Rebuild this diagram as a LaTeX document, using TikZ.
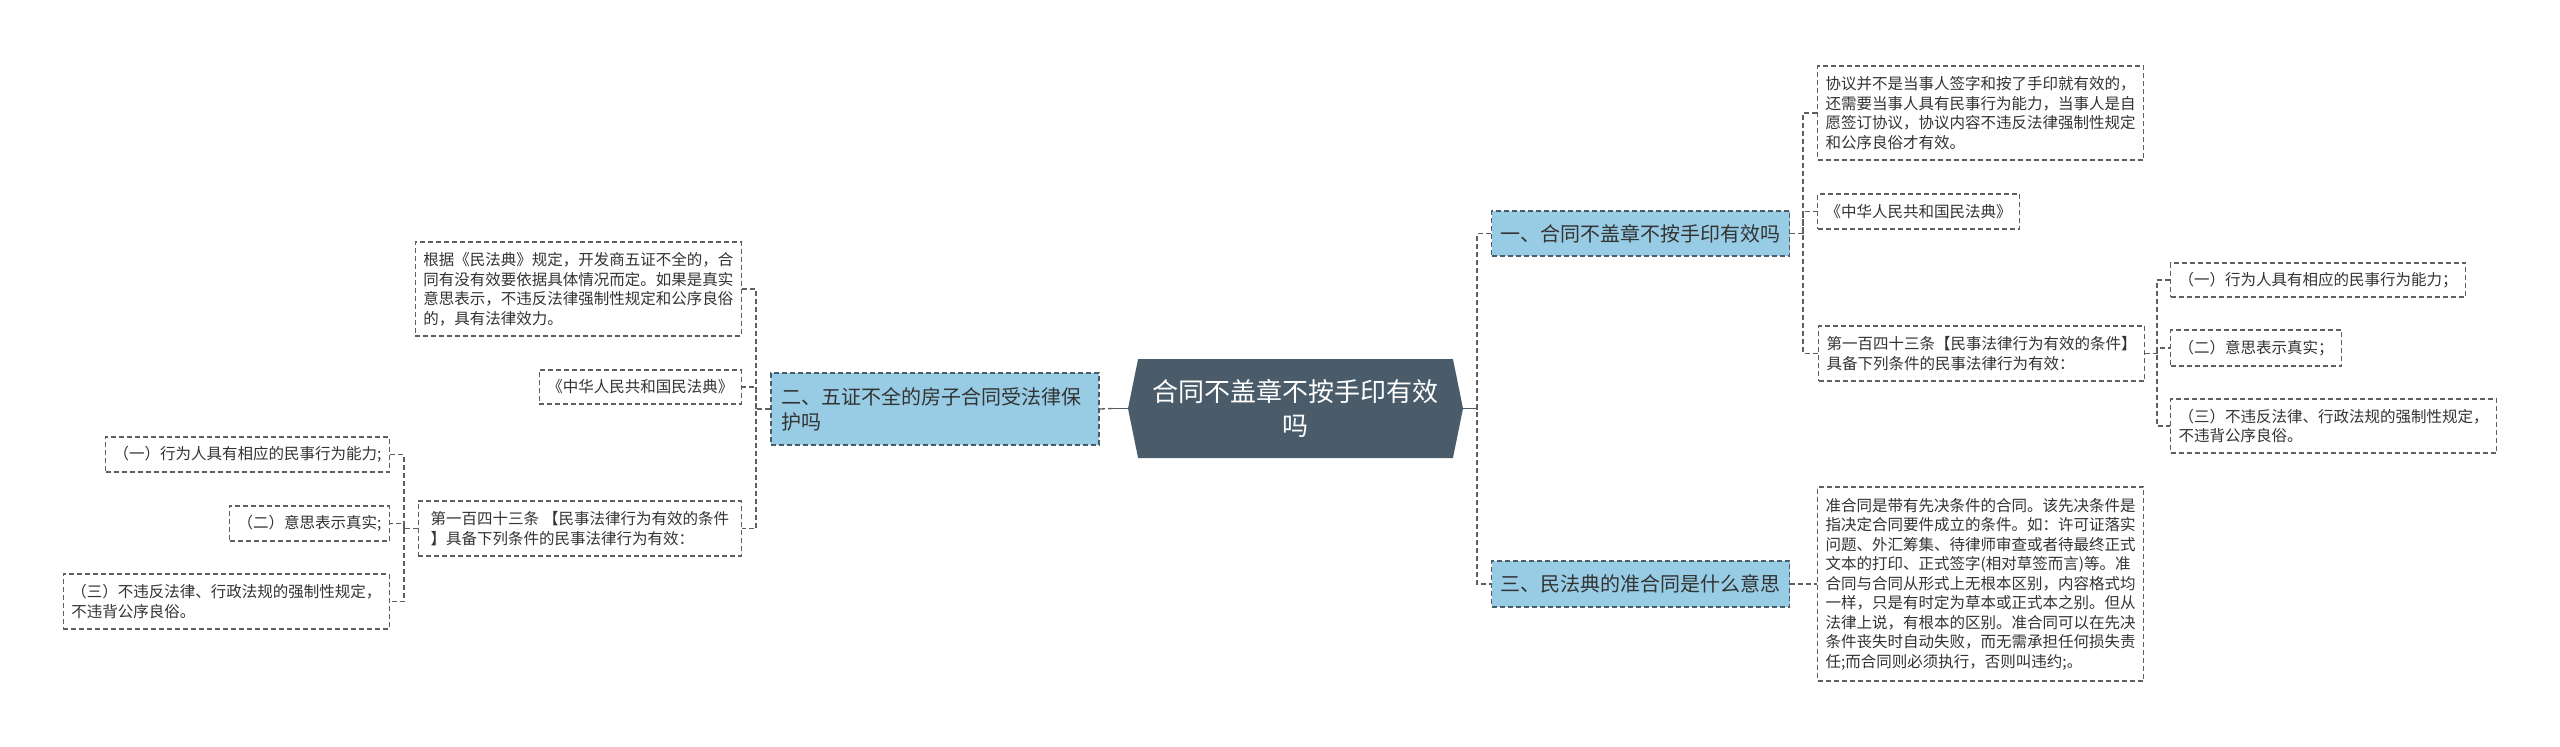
\documentclass[tikz,border=0pt]{standalone}
\usepackage{fontspec}
\newfontfamily\cjk{Noto Sans CJK SC}
\usetikzlibrary{shapes.symbols}
\definecolor{hubfill}{RGB}{74,91,106}
\definecolor{topicfill}{RGB}{152,204,229}
\definecolor{linkgray}{RGB}{95,95,95}
\definecolor{textgray}{RGB}{51,51,51}

\begin{document}
\begin{tikzpicture}[x=1pt, y=-1pt,
    hub/.style={signal, signal to=east and west, signal pointer angle=157, fill=hubfill, text=white,
      minimum width=335pt, minimum height=99pt, inner sep=0pt, align=center, font={\cjk\fontsize{26}{34}\selectfont}},
    topic/.style={draw=hubfill, dash pattern=on 5pt off 3pt, line width=1.3pt, fill=topicfill, text=textgray,
      inner xsep=9pt, inner ysep=0pt, align=left, font={\cjk\fontsize{20}{25}\selectfont}},
    leaf/.style={draw=linkgray, dash pattern=on 5pt off 3pt, line width=1.3pt, text=textgray,
      inner xsep=8pt, inner ysep=0pt, align=left, font={\cjk\fontsize{15.5}{19.5}\selectfont}},
    link/.style={draw=linkgray, dash pattern=on 5pt off 3pt, line width=1.3pt}]
    % Page frame
    \fill[white] (0,0) rectangle (2560,747);
    \useasboundingbox (0,0) rectangle (2560,747);

    % Central topic
    \node[hub] (hub) at (1295.5,408.5) {合同不盖章不按手印有效\\吗};

    % Main branches
    \node[topic, minimum width=297pt, minimum height=45pt] (b1) at (1640.5,233.5) {一、合同不盖章不按手印有效吗};
    \node[topic, minimum width=297pt, minimum height=46pt] (b3) at (1640.5,584) {三、民法典的准合同是什么意思};
    \node[topic, text width=308pt, inner xsep=10pt, minimum height=72pt] (b2) at (935,409) {二、五证不全的房子合同受法律保\\护吗};

    % Right leaves
    \node[leaf, anchor=west, minimum height=94pt] (c1a) at (1817,113) {协议并不是当事人签字和按了手印就有效的，\\还需要当事人具有民事行为能力，当事人是自\\愿签订协议，协议内容不违反法律强制性规定\\和公序良俗才有效。};
    \node[leaf, anchor=west, minimum height=35pt] (c1b) at (1817,211.5) {《中华人民共和国民法典》};
    \node[leaf, anchor=west, minimum height=55pt] (c1c) at (1818,353.5) {第一百四十三条【民事法律行为有效的条件】\\具备下列条件的民事法律行为有效：};
    \node[leaf, anchor=west, minimum height=34pt] (r1) at (2170,280) {（一）行为人具有相应的民事行为能力；};
    \node[leaf, anchor=west, minimum height=36pt] (r2) at (2170,348) {（二）意思表示真实；};
    \node[leaf, anchor=west, minimum height=54pt] (r3) at (2170,426) {（三）不违反法律、行政法规的强制性规定，\\不违背公序良俗。};
    \node[leaf, anchor=west, minimum height=194pt] (c3a) at (1817,584) {准合同是带有先决条件的合同。该先决条件是\\指决定合同要件成立的条件。如：许可证落实\\问题、外汇筹集、待律师审查或者待最终正式\\文本的打印、正式签字(相对草签而言)等。准\\合同与合同从形式上无根本区别，内容格式均\\一样，只是有时定为草本或正式本之别。但从\\法律上说，有根本的区别。准合同可以在先决\\条件丧失时自动失败，而无需承担任何损失责\\任;而合同则必须执行，否则叫违约;。};

    % Left leaves
    \node[leaf, anchor=east, minimum height=94pt] (l1) at (742,289) {根据《民法典》规定，开发商五证不全的，合\\同有没有效要依据具体情况而定。如果是真实\\意思表示，不违反法律强制性规定和公序良俗\\的，具有法律效力。};
    \node[leaf, anchor=east, minimum height=34pt] (l2) at (742,387) {《中华人民共和国民法典》};
    \node[leaf, anchor=east, minimum width=323pt, minimum height=55pt] (l3) at (742,528.5) {第一百四十三条\hspace{4pt}【民事法律行为有效的条件\\】具备下列条件的民事法律行为有效：};
    \node[leaf, anchor=east, minimum height=35pt] (ll1) at (390,454.5) {（一）行为人具有相应的民事行为能力;};
    \node[leaf, anchor=east, minimum height=35pt] (ll2) at (390,523.5) {（二）意思表示真实;};
    \node[leaf, anchor=east, minimum height=55pt] (ll3) at (390,601.5) {（三）不违反法律、行政法规的强制性规定，\\不违背公序良俗。};

    % Junctions
    \coordinate (tr) at (1477,408.5);
    \coordinate (tl) at (1113,408.5);
    \coordinate (j1) at (1803,233.5);
    \coordinate (j2) at (2157,353.5);
    \coordinate (j3) at (756,409);
    \coordinate (j4) at (404,528.5);

    % Connectors
    \draw[hubfill, line width=1.5pt] (hub.east) -- (tr);
    \draw[hubfill, line width=1.5pt] (hub.west) -- (tl);
    \draw[link] (b1.west) -| (tr) |- (b3.west);
    \draw[link] (tl) -- (b2.east);
    \draw[link] (b1.east) -- (j1);
    \draw[link] (c1a.west) -| (j1) |- (c1c.west);
    \draw[link] (j1) |- (c1b.west);
    \draw[link] (c1c.east) -- (j2);
    \draw[link] (r1.west) -| (j2) |- (r3.west);
    \draw[link] (j2) |- (r2.west);
    \draw[link] (b3.east) -- (c3a.west);
    \draw[link] (b2.west) -- (j3);
    \draw[link] (l1.east) -| (j3) |- (l3.east);
    \draw[link] (j3) |- (l2.east);
    \draw[link] (l3.west) -- (j4);
    \draw[link] (ll1.east) -| (j4) |- (ll3.east);
    \draw[link] (j4) |- (ll2.east);
\end{tikzpicture}
\end{document}
